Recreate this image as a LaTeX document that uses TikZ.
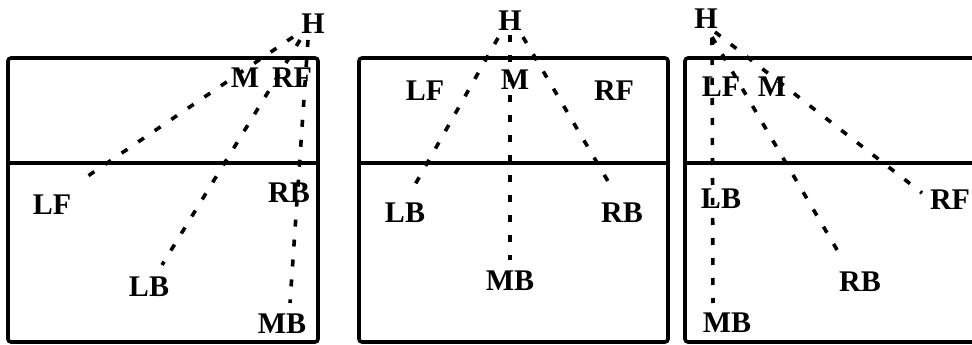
\documentclass[tikz,border=0pt]{standalone}
\usepackage{fontspec}
\setmainfont{Liberation Serif}
\begin{document}
\begin{tikzpicture}[x=1pt,y=-1pt,
  lbl/.style={font=\fontsize{30}{30}\selectfont\bfseries, inner sep=0pt},
  panel/.style={line width=3.6pt, rounded corners=3pt},
  ray/.style={line width=3.6pt, dash pattern=on 7pt off 13pt}]
\useasboundingbox (0,0) rectangle (972,345);
\begin{scope}
\clip (0,0) rectangle (972,345);
% panels
\draw[panel] (8,58) rectangle (318,342);
\draw[line width=3.6pt] (8,163) -- (318,163);
\draw[panel] (359,58) rectangle (668,342);
\draw[line width=3.6pt] (359,163) -- (668,163);
\draw[panel] (685,58) rectangle (995,342);
\draw[line width=3.6pt] (685,163) -- (995,163);
\end{scope}
% panel 1 labels
\node[lbl] (H1) at (313,24) {H};
\node[lbl] (M1) at (245,78) {M};
\node[lbl] (RF1) at (292,78) {RF};
\node[lbl] (LF1) at (52,205) {LF};
\node[lbl] (LB1) at (149,287) {LB};
\node[lbl] (RB1) at (289,193) {RB};
\node[lbl] (MB1) at (282,324) {MB};
% panel 2 labels
\node[lbl] (H2) at (510,21) {H};
\node[lbl] (M2) at (515,80) {M};
\node[lbl] (LF2) at (425,91) {LF};
\node[lbl] (RF2) at (614,91) {RF};
\node[lbl] (LB2) at (405,213) {LB};
\node[lbl] (RB2) at (622,213) {RB};
\node[lbl] (MB2) at (510,281) {MB};
% panel 3 labels
\node[lbl] (H3) at (706,19) {H};
\node[lbl] (LF3) at (721,87) {LF};
\node[lbl] (M3) at (772,87) {M};
\node[lbl] (LB3) at (721,199) {LB};
\node[lbl] (RF3) at (950,200) {RF};
\node[lbl] (RB3) at (860,282) {RB};
\node[lbl] (MB3) at (727,323) {MB};
% ray end points
\coordinate (a1s) at (293,37); \coordinate (a1e) at (82,180);
\coordinate (b1s) at (300,40); \coordinate (b1e) at (162,265);
\coordinate (c1s) at (308,40); \coordinate (c1e) at (290,303);
\coordinate (a2s) at (498,38); \coordinate (a2e) at (412,190);
\coordinate (b2s) at (510,35); \coordinate (b2e) at (510,260);
\coordinate (c2s) at (523,37); \coordinate (c2e) at (612,188);
\coordinate (a3s) at (712,38); \coordinate (a3e) at (713,303);
\coordinate (b3s) at (715,32); \coordinate (b3e) at (922,193);
\coordinate (c3s) at (712,37); \coordinate (c3e) at (843,260);
% rays
\draw[ray] (a1s) -- (a1e);
\draw[ray] (b1s) -- (b1e);
\draw[ray] (c1s) -- (c1e);
\draw[ray] (a2s) -- (a2e);
\draw[ray] (b2s) -- (b2e);
\draw[ray] (c2s) -- (c2e);
\draw[ray] (a3s) -- (a3e);
\draw[ray] (b3s) -- (b3e);
\draw[ray] (c3s) -- (c3e);
\end{tikzpicture}
\end{document}
